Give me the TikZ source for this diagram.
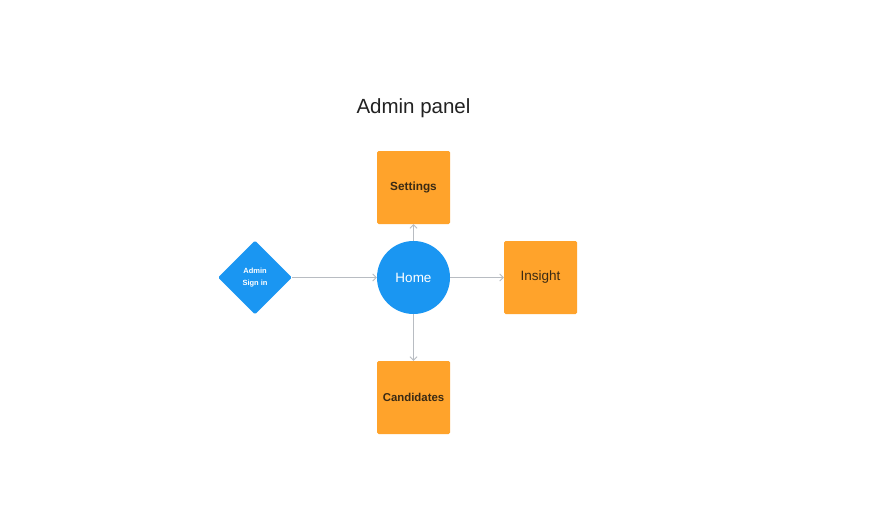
\documentclass[tikz,border=0pt]{standalone}
\usepackage{fontspec}
\setmainfont{Liberation Sans}
\usetikzlibrary{shapes.geometric,arrows.meta}
\definecolor{boxorange}{HTML}{FFA32B}
\definecolor{nodeblue}{HTML}{1A96F2}
\definecolor{labelbrown}{HTML}{3A2A14}
\definecolor{linegray}{HTML}{B8BCC2}
\definecolor{titlegray}{HTML}{222222}
\tikzset{
  pagebox/.style={rectangle, fill=boxorange, minimum width=73pt, minimum height=73pt, rounded corners=1.5pt, inner sep=0pt, text=labelbrown},
  homenode/.style={circle, fill=nodeblue, minimum size=73pt, inner sep=0pt, text=white, font=\fontsize{13.5}{15}\selectfont},
  signnode/.style={diamond, fill=nodeblue, minimum width=74pt, minimum height=74pt, inner sep=0pt, rounded corners=1.5pt, text=white, align=center, font=\bfseries\fontsize{7.5}{12.5}\selectfont},
  flow/.style={draw=linegray, line width=0.8pt, -{Straight Barb[length=3.5pt,width=7pt,line width=0.8pt]}},
}
\begin{document}
\begin{tikzpicture}[x=1pt,y=-1pt]
\useasboundingbox[fill=white] (0,0) rectangle (876,519);
\node[text=titlegray, font=\fontsize{20.5}{22}\selectfont] (title) at (413.5,108.5) {Admin panel};
\node[homenode] (home) at (413.5,277.5) {Home};
\node[signnode] (sign) at (255,277.5) {Admin\\Sign in};
\node[pagebox, font=\bfseries\fontsize{11.8}{13}\selectfont] (settings) at (413.5,187.5) {Settings};
\node[pagebox, font=\fontsize{13.5}{15}\selectfont] (insight) at (540.5,277.5) {Insight};
\node[pagebox, font=\bfseries\fontsize{11.4}{13}\selectfont] (cand) at (413.5,397.5) {Candidates};
\draw[flow] (sign.east) -- (home.west);
\draw[flow] (home.north) -- (settings.south);
\draw[flow] (home.east) -- (insight.west);
\draw[flow] (home.south) -- (cand.north);
\end{tikzpicture}
\end{document}
